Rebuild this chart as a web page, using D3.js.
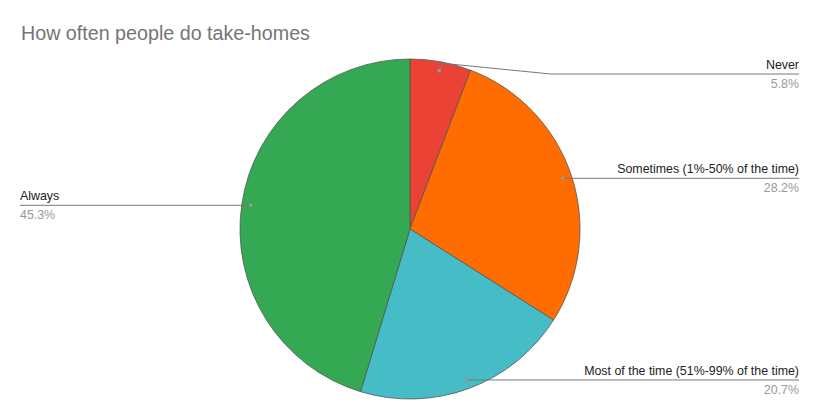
<!DOCTYPE html>
<meta charset="utf-8">
<html>
<head>
  <script src="https://d3js.org/d3.v7.min.js"></script>
  <style>
    body { margin: 0; background: #fff; font-family: "Liberation Sans", Arial, sans-serif; }
  </style>
</head>
<body>
  <svg width="820" height="420"></svg>
  <script>
    const categories = ["Never", "Sometimes (1%-50% of the time)", "Most of the time (51%-99% of the time)", "Always"];
    const values = [5.8, 28.2, 20.7, 45.3];
    const colors = ["#ea4335", "#ff6d01", "#46bdc6", "#34a853"];

    const svg = d3.select("svg");
    const cx = 410, cy = 229, R = 170;

    svg.append("text")
      .attr("x", 21).attr("y", 40)
      .attr("font-size", "19.7px")
      .attr("fill", "#757575")
      .text("How often people do take-homes");

    const pie = d3.pie().sort(null).value(d => d)(values);
    const arc = d3.arc().innerRadius(0).outerRadius(R);
    const g = svg.append("g").attr("transform", `translate(${cx},${cy})`);

    g.selectAll("path")
      .data(pie)
      .enter().append("path")
        .attr("d", arc)
        .attr("fill", (d, i) => colors[i])
        .attr("stroke", "#555")
        .attr("stroke-width", 0.8);

    // leader lines + labels
    const dotR = 161;
    pie.forEach((d, i) => {
      const a = (d.startAngle + d.endAngle) / 2;
      const px = cx + Math.sin(a) * dotR, py = cy - Math.cos(a) * dotR;
      const right = Math.sin(a) > 0;
      const ly = Math.max(py, 74);
      const endX = right ? 799 : 20;
      let pts;
      if (ly > py + 0.5) {
        const ex = cx + Math.sin(a) * R, ey = cy - Math.cos(a) * R;
        pts = [[px, py], [ex + 2, ey + 1.5], [ex + 110, ly], [endX, ly]];
      } else {
        pts = [[px, py], [endX, ly]];
      }
      svg.append("path")
        .attr("d", d3.line()(pts))
        .attr("fill", "none")
        .attr("stroke", "#777")
        .attr("stroke-width", 1);
      svg.append("circle")
        .attr("cx", px).attr("cy", py).attr("r", 1.8)
        .attr("fill", "#999");
      svg.append("text")
        .attr("x", endX).attr("y", ly - 5)
        .attr("text-anchor", right ? "end" : "start")
        .attr("font-size", "12.4px")
        .attr("fill", "#222")
        .text(categories[i]);
      svg.append("text")
        .attr("x", endX).attr("y", ly + 14)
        .attr("text-anchor", right ? "end" : "start")
        .attr("font-size", "12.4px")
        .attr("fill", "#999")
        .text(values[i].toFixed(1) + "%");
    });
  </script>
</body>
</html>
